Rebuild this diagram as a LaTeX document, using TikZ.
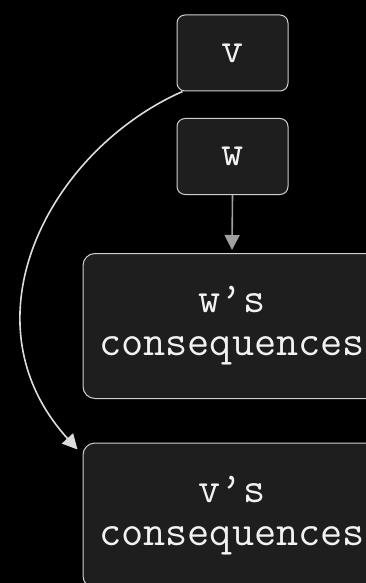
\documentclass[tikz,border=0pt]{standalone}
\usepackage{fontspec}
\setmonofont{Latin Modern Mono}
\usetikzlibrary{arrows.meta,calc}
\definecolor{boxfill}{HTML}{1E1E1E}
\definecolor{boxline}{HTML}{CFCFCF}
\definecolor{txt}{HTML}{F2F2F2}
\definecolor{shortarrow}{HTML}{A0A0A0}
\definecolor{longarrow}{HTML}{DCDCDC}
\tikzset{
  smallbox/.style={draw=boxline, line width=1pt, fill=boxfill, rounded corners=8pt,
    minimum width=111pt, minimum height=76pt, inner sep=0pt, text=txt,
    font=\fontsize{43}{45}\selectfont\ttfamily},
  bigbox/.style={draw=boxline, line width=1pt, fill=boxfill, rounded corners=12pt,
    minimum width=298pt, minimum height=145pt, inner sep=0pt, text=txt, align=center,
    font=\fontsize{43}{45}\selectfont\ttfamily},
  conn/.style={line width=1.6pt, -{Triangle[length=15pt,width=15pt]}}
}
\begin{document}
\begin{tikzpicture}[x=1pt,y=-1pt]
\fill[black] (0,0) rectangle (366,583);
\useasboundingbox (0,0) rectangle (366,583);
\node[smallbox] (v) at (232.5,53) {\raisebox{-4pt}{v}};
\node[smallbox] (w) at (232.5,156.5) {\raisebox{-4pt}{w}};
\node[bigbox] (wc) at (232,326) {\raisebox{-2pt}{w’s}\\consequences};
\node[bigbox] (vc) at (232,515.5) {\raisebox{-2pt}{v’s}\\consequences};
\draw[conn, draw=shortarrow] (w.south) -- ($(wc.north)+(0,-3)$);
\coordinate (cs) at ($(v.south west)+(6,0)$);
\coordinate (ce) at ($(vc.north west)+(-5,7)$);
\draw[conn, draw=longarrow] (cs) .. controls (50,150) and (-40,320) .. (ce);
\end{tikzpicture}
\end{document}
